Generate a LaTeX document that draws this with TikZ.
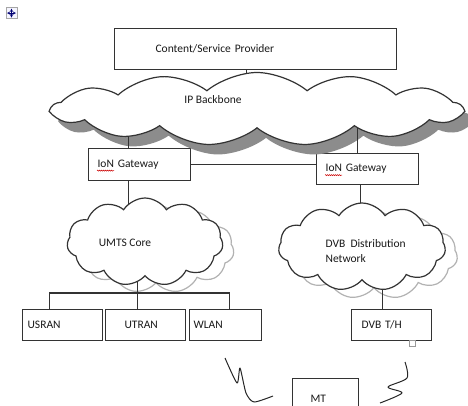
\documentclass[tikz,border=0pt]{standalone}
\usepackage{fontspec}
\setmainfont{Carlito}
\usepackage{tikz}
\usetikzlibrary{shapes}
\usetikzlibrary{shapes.symbols}
\usetikzlibrary{arrows}
\usetikzlibrary{calc}
\usetikzlibrary{decorations.pathmorphing}

\begin{document}
\begin{tikzpicture}[
        x=1pt, y=-1pt,
        line width=1.2pt,
        netbox/.style = {draw=black!80, rectangle, fill=white, align=left, anchor=north west,
                         inner ysep=0pt, text=black!90, font=\fontsize{11.5}{13}\selectfont},
        netcloud/.style = {cloud, draw=black!80, fill=white, inner sep=0pt, cloud puff arc=115},
        cloudcopy/.style = {cloud, draw=black!30, fill=white, inner sep=0pt, cloud puff arc=115},
        cloudshade/.style = {cloud, draw=none, fill=black!45, inner sep=0pt, cloud puff arc=115},
        ipbsize/.style = {cloud puffs=13, cloud puff arc=80, aspect=5.6, minimum width=410, minimum height=73},
        umtssize/.style = {cloud puffs=11, aspect=1.85, minimum width=156, minimum height=88},
        dvbsize/.style = {cloud puffs=11, aspect=2, minimum width=167, minimum height=88},
        cloudtext/.style = {text=black!90, font=\fontsize{11.5}{15}\selectfont, align=left, inner sep=0pt},
        wave/.style = {red!80!black, line width=0.5pt, decorate,
                       decoration={snake, amplitude=0.6pt, segment length=2pt}},
        hand/.style = {black!85, line width=1pt, line join=round},
        ]
    \clip (0,0) rectangle (468,405);

    % boxes
    \node[netbox, minimum height=41, inner xsep=41, text width=200] (csp) at (114,28) {Content/Service Provider};
    \node[netbox, minimum height=32, inner xsep=9, text width=84] (gwl) at (88,148) {IoN Gateway};
    \node[netbox, minimum height=31, inner xsep=9, text width=84] (gwr) at (316,153) {IoN Gateway};
    \node[netbox, minimum height=31, inner xsep=5, text width=70] (usran) at (22,309) {USRAN};
    \node[netbox, minimum height=31, inner xsep=19, text width=42] (utran) at (105,309) {UTRAN};
    \node[netbox, minimum height=31, inner xsep=4, text width=64] (wlan) at (189,309) {WLAN};
    \node[netbox, minimum height=31, inner xsep=10, text width=60] (dvbth) at (351,309) {DVB T/H};
    \node[netbox, minimum height=40, inner xsep=18, text width=30] (mt) at (292,378) {MT};

    % cloud centres, shadows and copies
    \coordinate (ipbc) at (257,109);
    \coordinate (umtsc) at (145,242);
    \coordinate (dvbc) at (362,247);
    \node[cloudshade, ipbsize] (ipbshade) at ($(ipbc)+(9,10)$) {};
    \node[cloudcopy, umtssize] (umtscopy) at ($(umtsc)+(11,7)$) {};
    \node[cloudcopy, dvbsize] (dvbcopy) at ($(dvbc)+(12,8)$) {};

    % links
    \draw[black!80] ([xshift=-9pt]csp.south) -- ([xshift=-9pt]csp.south |- ipbc);
    \draw[black!80] ([xshift=-11pt]gwl.north) -- ([xshift=-11pt]gwl.north |- ipbc);
    \draw[black!80] ([xshift=-10pt]gwr.north) -- ([xshift=-10pt]gwr.north |- ipbc);
    \draw[black!80] (gwl.east) -- (gwl.east -| gwr.west);
    \draw[black!80] ([xshift=-11pt]gwl.south) -- ([xshift=-11pt]gwl.south |- umtsc);
    \draw[black!80] ([xshift=-7pt]gwr.south) -- ([xshift=-7pt]gwr.south |- dvbc);
    \coordinate (bus) at (137,293);
    \draw[black!80] ([xshift=-8pt]utran.north) -- ([xshift=-8pt]utran.north |- umtsc);
    \draw[black!80] ([xshift=-13pt]usran.north) |- (bus) -| ([xshift=4pt]wlan.north);
    \draw[black!80] ([xshift=-9pt]dvbth.north) -- ([xshift=-9pt]dvbth.north |- dvbc);

    % clouds
    \node[netcloud, ipbsize] (ipb) at (ipbc) {};
    \node[netcloud, umtssize] (umts) at (umtsc) {};
    \node[netcloud, dvbsize] (dvb) at (dvbc) {};
    \node[cloudtext] (ipbtext) at (213,100) {IP Backbone};
    \node[cloudtext] (umtstext) at (125,243) {UMTS Core};
    \node[cloudtext, anchor=west] (dvbtext) at (325,251) {DVB\ \ Distribution\\Network};

    % spelling marks
    \draw[wave] ($(gwl.west)+(9,6)$) -- ++(17,0);
    \draw[wave] ($(gwr.west)+(9,6)$) -- ++(17,0);

    % radio links
    \draw[hand] plot[smooth, tension=0.4] coordinates {(225,358) (237,383) (240,368) (246,393) (254,402) (273,396)};
    \draw[hand] plot[smooth, tension=0.5] coordinates {(405,362) (407,378) (388,387) (402,393) (380,403)};

    % handles
    \node[draw=black!35, line width=0.5pt, fill=blue!4, minimum size=11, inner sep=0pt] (movehandle) at (11.5,13) {};
    \draw[<->, >=stealth, blue!45!black, line width=0.5pt] ($(movehandle.center)+(-4.5,0)$) -- ($(movehandle.center)+(4.5,0)$);
    \draw[<->, >=stealth, blue!45!black, line width=0.5pt] ($(movehandle.center)+(0,-4.5)$) -- ($(movehandle.center)+(0,4.5)$);
    \node[draw=black!40, line width=0.5pt, fill=white, minimum size=6, inner sep=0pt] (sizehandle) at (412,343) {};
\end{tikzpicture}
\end{document}
